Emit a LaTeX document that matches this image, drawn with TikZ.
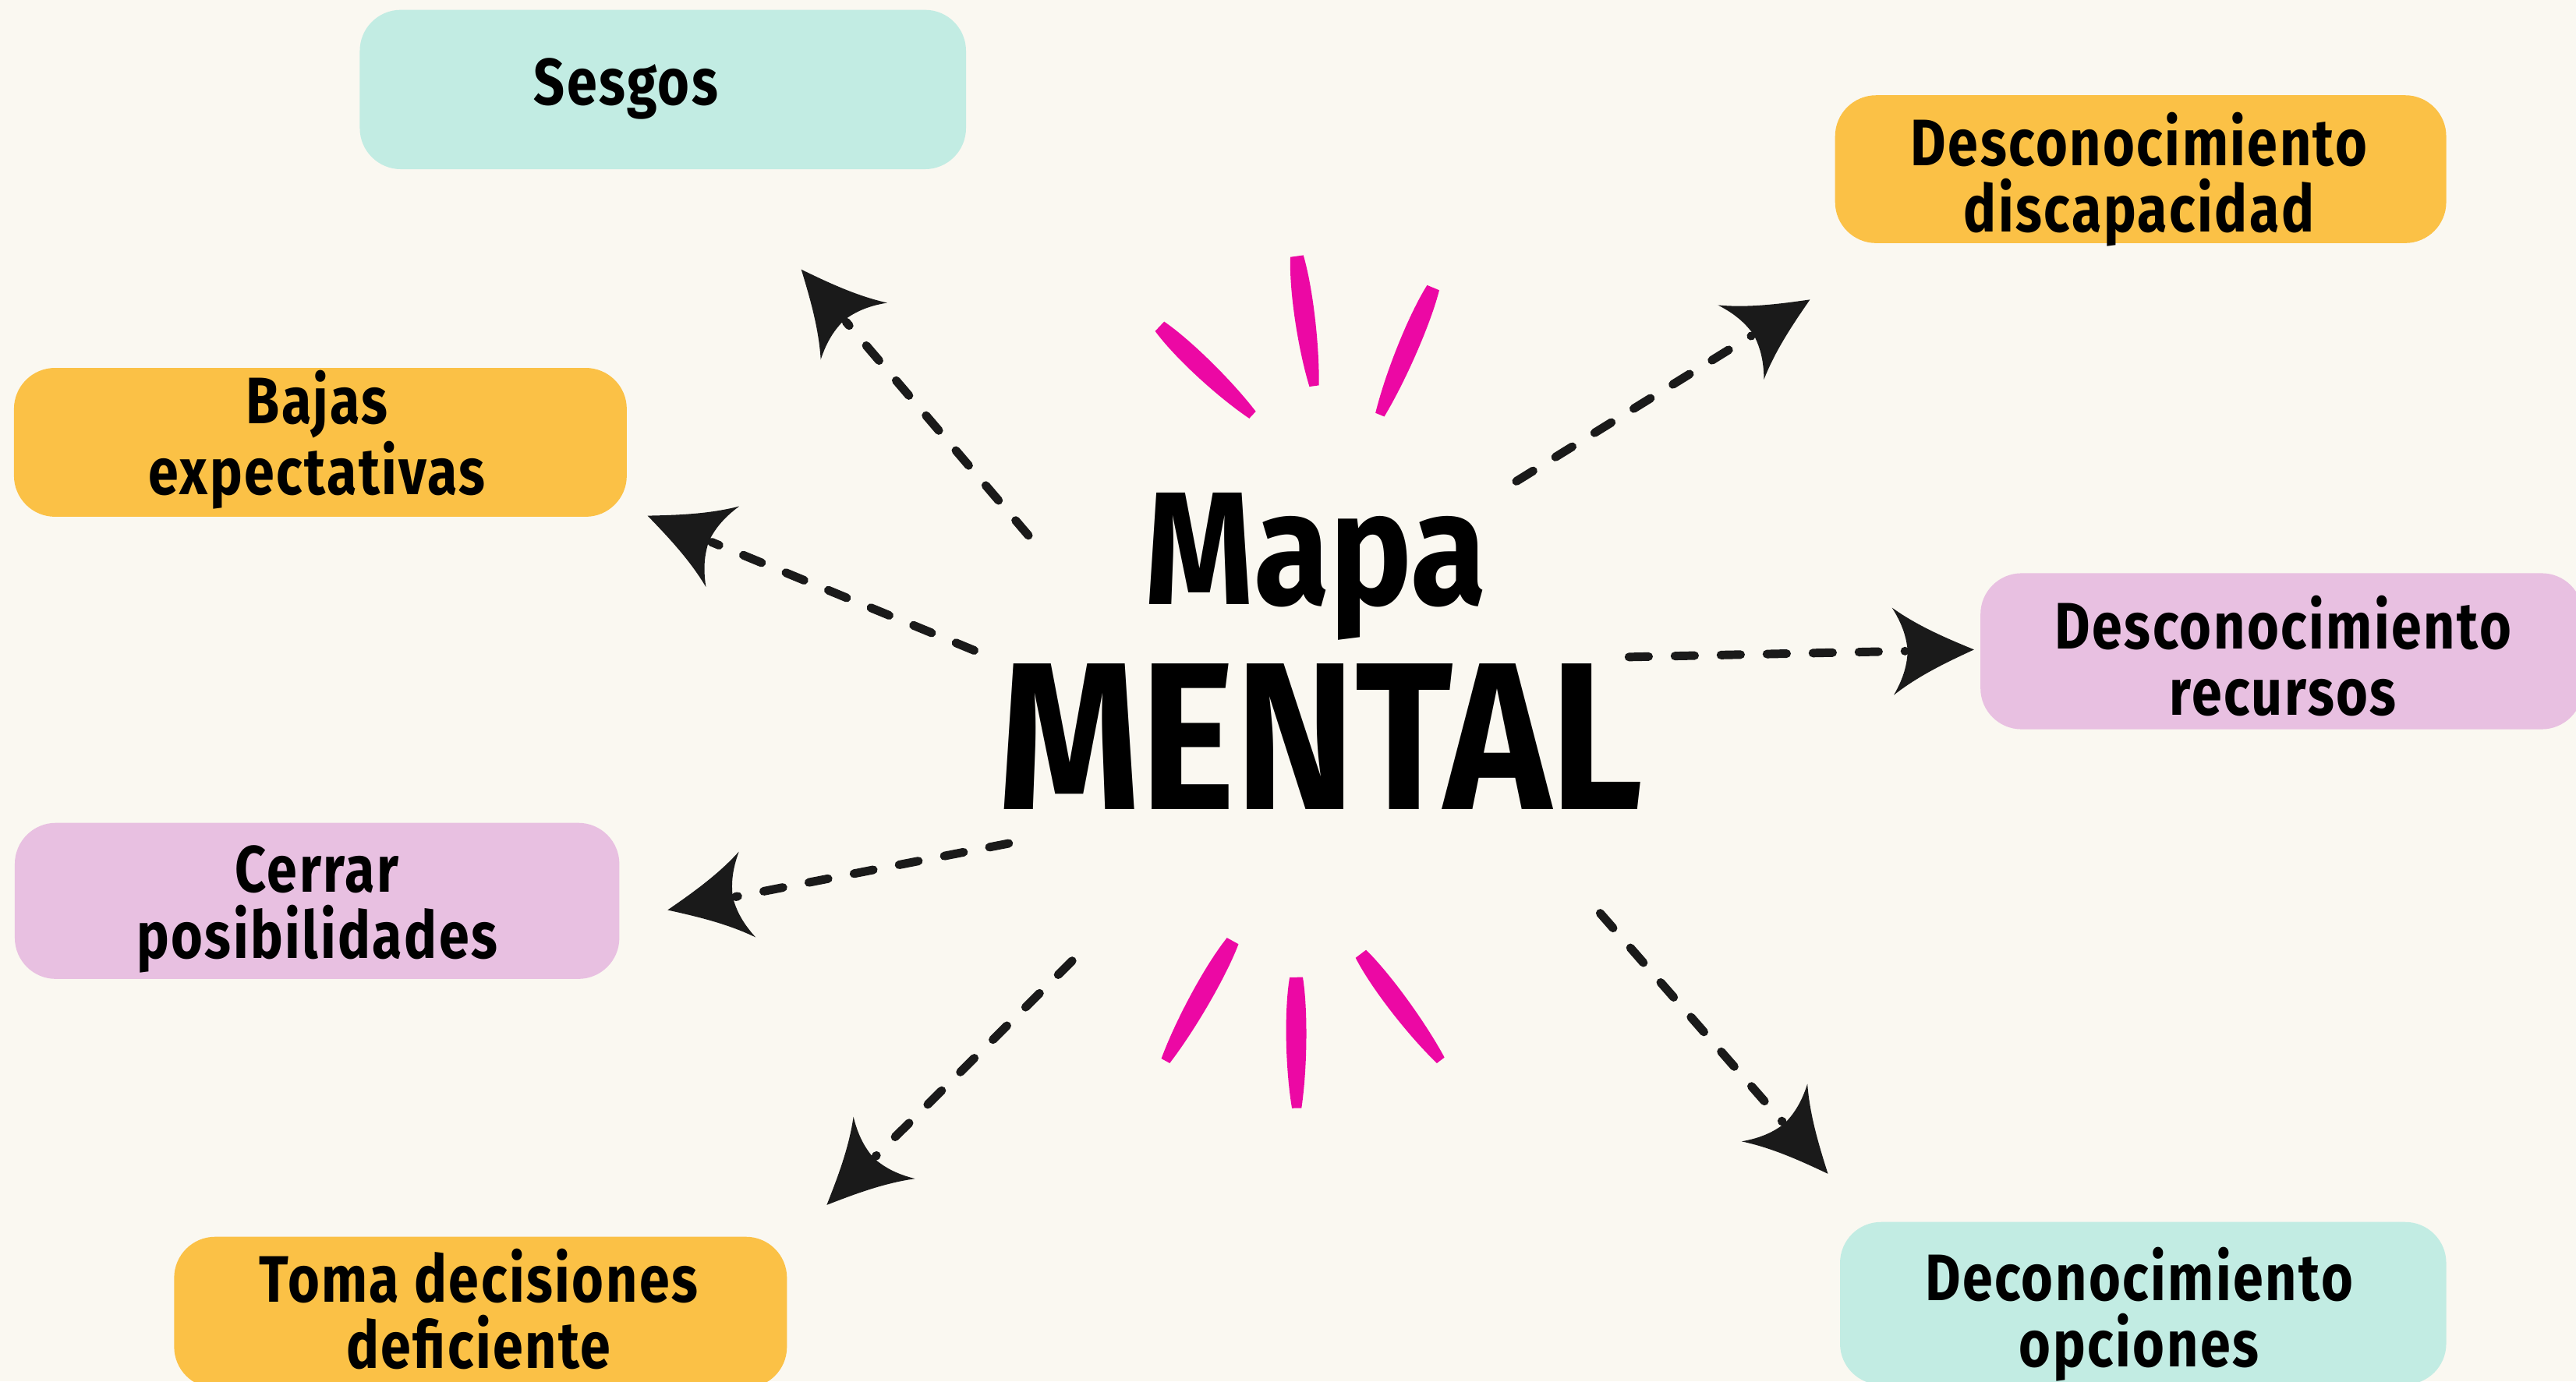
\documentclass[tikz,border=0pt]{standalone}
\usepackage{fontspec}
\newfontfamily\mf{Fira Sans}[FakeStretch=0.83, LetterSpace=3]
\newfontfamily\tf{Fira Sans}[FakeStretch=0.86]
\usetikzlibrary{calc}
\definecolor{bg}{RGB}{250,248,241}
\definecolor{cteal}{RGB}{194,236,227}
\definecolor{corange}{RGB}{251,193,70}
\definecolor{cpink}{RGB}{232,192,225}
\definecolor{ink}{RGB}{26,26,26}
\definecolor{brush}{RGB}{236,8,164}
\begin{document}
\begin{tikzpicture}[x=0.5pt,y=-0.5pt,
  box/.style={rounded corners=12.5pt, inner sep=0pt, draw=none},
  lbl/.style={font=\mf\bfseries\fontsize{20}{20.2}\selectfont, align=center, anchor=base, inner sep=0pt},
  link/.style={draw=ink, line width=2.6pt, line cap=round, dash pattern=on 6pt off 8pt},
  ahead/.pic={\fill[ink] (21pt,0pt) .. controls (13pt,3.5pt) and (4pt,7.5pt) .. (-3.7pt,13.3pt)
     .. controls (-0.5pt,8pt) and (0.5pt,4pt) .. (0.8pt,0pt)
     .. controls (0.5pt,-4pt) and (-0.5pt,-8pt) .. (-3.7pt,-13.3pt)
     .. controls (4pt,-7.5pt) and (13pt,-3.5pt) .. (21pt,0pt) -- cycle;},
  brushpic/.pic={\fill[brush] (0pt,-1.8pt) .. controls (0.25*#1,-3.6pt) and (0.7*#1,-3.4pt) .. (#1,-1.5pt)
     -- (#1,1.4pt) .. controls (0.7*#1,3.3pt) and (0.25*#1,3.7pt) .. (0pt,2.2pt) -- cycle;}
]
\fill[bg] (0,0) rectangle (1568,841);
\useasboundingbox (0,0) rectangle (1568,841);

% boxes
\node[box, fill=cteal, minimum width=184.5pt, minimum height=48.5pt] (sesgos) at (403.5,54.5) {};
\node[box, fill=corange, minimum width=186pt, minimum height=45pt] (discap) at (1303,103) {};
\node[box, fill=corange, minimum width=186.5pt, minimum height=45.3pt] (bajas) at (195,269.3) {};
\node[box, fill=cpink, minimum width=183.3pt, minimum height=47.5pt] (recursos) at (1388.8,396.5) {};
\node[box, fill=cpink, minimum width=184pt, minimum height=47.5pt] (cerrar) at (193,548.5) {};
\node[box, fill=corange, minimum width=186.5pt, minimum height=46pt] (toma) at (292.5,799) {};
\node[box, fill=cteal, minimum width=184.5pt, minimum height=49.5pt] (opciones) at (1304.5,793.5) {};

% labels (anchor = baseline of the last line)
\node[lbl] (sesgos-t) at (381,63.6) {Sesgos};
\node[lbl] (discap-t) at (1302,141.4) {Desconocimiento\\discapacidad};
\node[lbl] (bajas-t) at (193,301) {Bajas\\expectativas};
\node[lbl] (recursos-t) at (1389.7,435.4) {Desconocimiento\\recursos};
\node[lbl] (cerrar-t) at (193,583.4) {Cerrar\\posibilidades};
\node[lbl] (toma-t) at (291.3,833) {Toma decisiones\\deficiente};
\node[lbl] (opciones-t) at (1302,832.1) {Deconocimiento\\opciones};

% center title
\node[font=\tf\bfseries\fontsize{49}{49}\selectfont, anchor=base, inner sep=0pt] (mapa) at (801,368) {Mapa};
\node[font=\tf\bfseries\fontsize{64}{64}\selectfont, anchor=base, inner sep=0pt] (mental) at (804,492.7) {MENTAL};

% brush strokes (start and end points)
\coordinate (b1a) at (705.6,199);  \coordinate (b1b) at (762.5,252.6);
\coordinate (b2a) at (789,156);    \coordinate (b2b) at (800,235);
\coordinate (b3a) at (872,175);    \coordinate (b3b) at (840,252.6);
\coordinate (b4a) at (750,572.7);  \coordinate (b4b) at (709.5,646);
\coordinate (b5a) at (788.6,595);  \coordinate (b5b) at (789.4,674.7);
\coordinate (b6a) at (828,581);    \coordinate (b6b) at (877,645.5);
\foreach \i in {1,...,6}{
  \path let \p1=($(b\i b)-(b\i a)$), \n1={atan2(\y1,\x1)}, \n2={veclen(\x1,\y1)}
    in pic[rotate=\n1] at (b\i a) {brushpic=\n2};
}

% connector end points
\coordinate (s1) at (626,326);   \coordinate (e1) at (515,196);
\coordinate (s2) at (593,396);   \coordinate (e2) at (433,330);
\coordinate (s3) at (614,513.5); \coordinate (e3) at (447.6,546);
\coordinate (s4) at (652.6,585); \coordinate (e4) at (533,704);
\coordinate (s5) at (923,293);   \coordinate (e5) at (1066,204.5);
\coordinate (s6) at (991.5,400); \coordinate (e6) at (1159.6,396.4);
\coordinate (s7) at (974,556);   \coordinate (e7) at (1085,683);

\foreach \i in {1,...,7}{
  \draw[link] (s\i) -- (e\i);
  \path let \p1=($(e\i)-(s\i)$), \n1={atan2(\y1,\x1)} in pic[rotate=\n1] at (e\i) {ahead};
}
\end{tikzpicture}
\end{document}
